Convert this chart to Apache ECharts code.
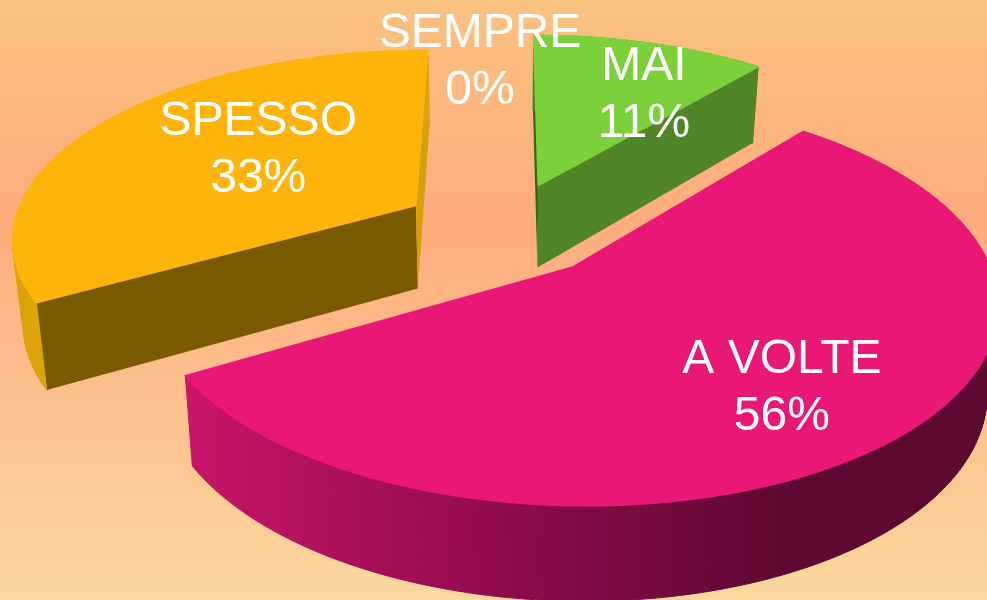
<!DOCTYPE html>
<html>
<head>
<meta charset="utf-8">
<style>html,body{margin:0;padding:0;background:#fdb27e}#c{width:987px;height:600px}</style>
<script src="https://cdn.jsdelivr.net/npm/echarts@6/dist/echarts.min.js"></script>
</head>
<body>
<div id="c"></div>
<script>
// Data
const categories = ['MAI', 'A VOLTE', 'SPESSO', 'SEMPRE'];
const answers = [1, 5, 3, 0];

// Styles
const topColors = ['#7cd13b', '#e91876', '#ffb40b', '#cccccc'];
const endCutColors = ['#508528', null, '#d6a00a', null];
const startCutColors = ['#2f6a1c', null, '#7a5a00', null];
const outerColors = ['#508528', null, '#dba40a', '#cccccc'];
// label placement: radial fraction, then nudge in px
const labelRadius = [0.6, 0.68, 0.5, 0.8];
const labelNudgeX = [35, 3, 4, -24];
const labelNudgeY = [0, 8, -12, 2];

// Projection of the tilted pie
const cx = 504, cy = 229, rx = 404, ry = 187;
const persp = 0.16, explode = 0.257, depth = 84;

function project(X, Y, z) {
  const w = 1 - persp * Y;
  const zd = z * depth / (1 - 0.1 * Y);
  const conv = 1 - 0.022 * z;
  return [cx + (rx * X / w) * conv, cy + ry * Y / w + zd];
}

const total = answers.reduce((a, b) => a + b, 0);

function renderItem(params, api) {
  const i = params.dataIndex;
  const val = api.value(0);
  let before = 0;
  for (let k = 0; k < i; k++) before += answers[k];
  const a0 = before / total * Math.PI * 2;
  const a1 = (before + val) / total * Math.PI * 2;
  const mid = (a0 + a1) / 2;
  const ox = explode * Math.sin(mid), oy = -explode * Math.cos(mid);
  const pt = (a, r, z) => project(ox + r * Math.sin(a), oy - r * Math.cos(a), z);
  const rank = Math.round((1 - Math.cos(mid)) * 100) * 10;
  const children = [];

  if (val > 0) {
    const n = Math.max(2, Math.round((a1 - a0) / (Math.PI / 180)));
    const arcTop = [], arcBottom = [];
    for (let s = 0; s <= n; s++) {
      const a = a0 + (a1 - a0) * s / n;
      arcTop.push(pt(a, 1, 0));
      arcBottom.push(pt(a, 1, 1));
    }
    const apexT = pt(0, 0, 0), apexB = pt(0, 0, 1);
    const outerFill = outerColors[i] || {
      type: 'linear', x: 183, y: 0, x2: 790, y2: 0, global: true,
      colorStops: [
        { offset: 0, color: '#c91569' },
        { offset: 0.5, color: '#920c4e' },
        { offset: 1, color: '#5c0830' }
      ]
    };
    if (startCutColors[i]) children.push({
      type: 'polygon', z2: rank,
      shape: { points: [apexT, arcTop[0], arcBottom[0], apexB] },
      style: { fill: startCutColors[i] }
    });
    if (endCutColors[i]) children.push({
      type: 'polygon', z2: rank,
      shape: { points: [apexT, arcTop[n], arcBottom[n], apexB] },
      style: { fill: endCutColors[i] }
    });
    for (let s = 0; s < n; s++) {
      children.push({
        type: 'polygon', z2: rank + 1,
        shape: { points: [arcTop[s], arcTop[s + 1], arcBottom[s + 1], arcBottom[s]] },
        style: { fill: outerFill, stroke: outerFill, lineWidth: 1 }
      });
    }
    children.push({
      type: 'polygon', z2: rank + 2,
      shape: { points: [apexT].concat(arcTop) },
      style: { fill: topColors[i], stroke: topColors[i], lineWidth: 1.5, lineJoin: 'round' }
    });
  }

  const lp = pt(mid, labelRadius[i], 0);
  children.push({
    type: 'text', z2: 5000,
    x: lp[0] + labelNudgeX[i], y: lp[1] + labelNudgeY[i],
    style: {
      text: categories[i] + '\n' + Math.round(val / total * 100) + '%',
      fill: '#ffffff',
      fontFamily: '"Liberation Sans", Arial, sans-serif',
      fontSize: 48,
      lineHeight: 57,
      align: 'center',
      verticalAlign: 'middle'
    }
  });
  return { type: 'group', children };
}

const chart = echarts.init(document.getElementById('c'), null, { renderer: 'canvas' });
chart.setOption({
  animation: false,
  backgroundColor: {
    type: 'linear', x: 0, y: 0, x2: 0, y2: 1,
    colorStops: [
      { offset: 0, color: '#fac27f' },
      { offset: 0.37, color: '#feac7e' },
      { offset: 1, color: '#fbd89e' }
    ]
  },
  series: [{
    type: 'custom',
    coordinateSystem: 'none',
    silent: true,
    renderItem,
    data: answers.map((v, i) => ({ name: categories[i], value: [v] }))
  }]
});
</script>
</body>
</html>
